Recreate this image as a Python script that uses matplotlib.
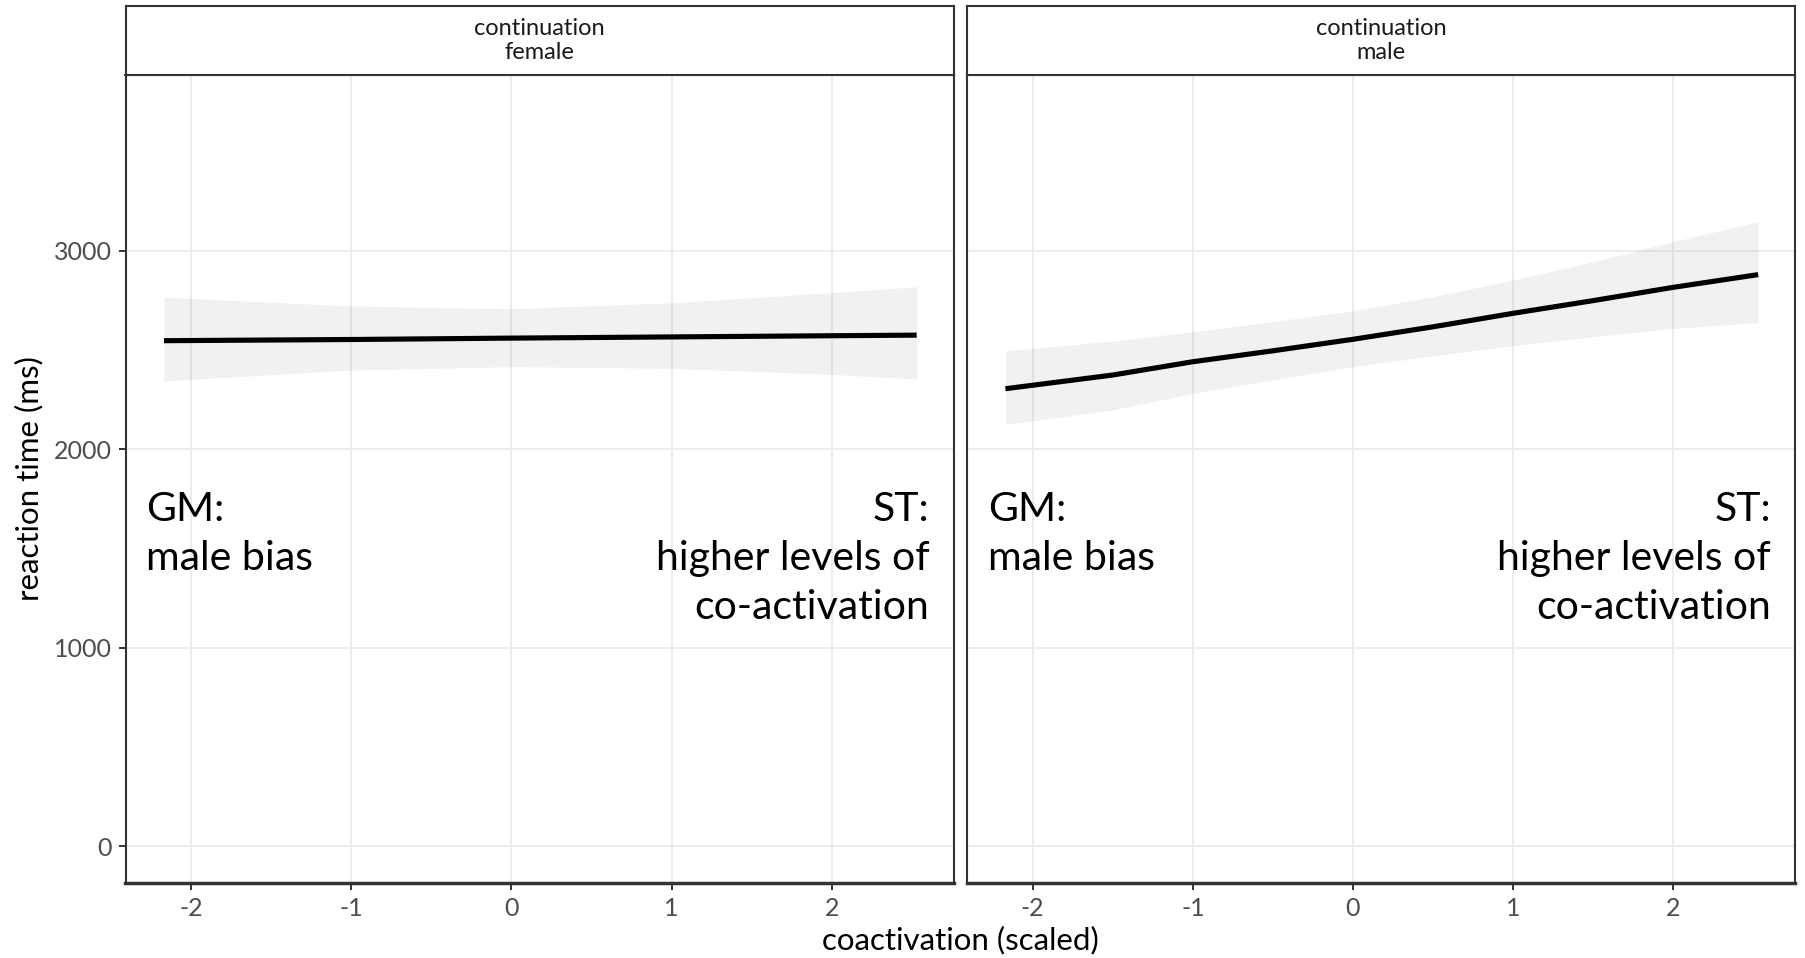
import matplotlib.pyplot as plt

plt.rcParams['font.family'] = ['Lato', 'DejaVu Sans']
plt.rcParams['axes.unicode_minus'] = False

# predicted values
female_x = [-2.17, -1.0, 0.0, 1.0, 2.0, 2.53]
female_fit = [2547, 2553, 2560, 2566, 2572, 2575]
female_upper = [2766, 2722, 2708, 2738, 2789, 2819]
female_lower = [2344, 2399, 2416, 2408, 2377, 2354]

male_x = [-2.17, -1.5, -1.0, -0.5, 0.0, 0.5, 1.0, 1.5, 2.0, 2.53]
male_fit = [2305, 2374, 2441, 2496, 2554, 2617, 2685, 2749, 2816, 2880]
male_upper = [2495, 2545, 2592, 2643, 2698, 2769, 2853, 2945, 3046, 3147]
male_lower = [2125, 2198, 2282, 2349, 2416, 2471, 2522, 2567, 2609, 2638]

panels = [
    ("continuation\nfemale", female_x, female_fit, female_upper, female_lower),
    ("continuation\nmale", male_x, male_fit, male_upper, male_lower),
]
x_ticks = [-2, -1, 0, 1, 2]
y_ticks = [0, 1000, 2000, 3000]

W, H = 1805, 958
fig = plt.figure(figsize=(W / 100, H / 100), dpi=100)

panel_lefts = [125.5, 967]
panel_w = 828
panel_top, panel_bottom, strip_top = 75, 883, 6

for i, (label, xs, fit, upper, lower) in enumerate(panels):
    left = panel_lefts[i] / W
    ax = fig.add_axes([left, 1 - panel_bottom / H, panel_w / W, (panel_bottom - panel_top) / H])
    ax.fill_between(xs, lower, upper, color='grey', alpha=0.11, lw=0, zorder=2)
    ax.plot(xs, fit, color='black', lw=3.7, zorder=3, solid_capstyle='butt')
    ax.set_xlim(-2.41, 2.76)
    ax.set_ylim(-186, 3886)
    ax.set_xticks(x_ticks)
    ax.set_yticks(y_ticks)
    ax.grid(True, color='#EBEBEB', lw=1.3, zorder=0)
    ax.set_axisbelow(True)
    for s in ax.spines.values():
        s.set_color('#333333')
        s.set_linewidth(1.5)
    ax.spines['bottom'].set_linewidth(2.5)
    ax.tick_params(colors='#333333', labelcolor='#4D4D4D', labelsize=18, length=5, width=1.4, pad=5)
    if i == 1:
        ax.tick_params(axis='y', left=False, labelleft=False)

    ax.text(0.025, 1790, "GM:\nmale bias", transform=ax.get_yaxis_transform(),
            ha='left', va='top', fontsize=29.5, linespacing=1.4)
    ax.text(0.971, 1790, "ST:\nhigher levels of\nco-activation", transform=ax.get_yaxis_transform(),
            ha='right', va='top', fontsize=29.5, linespacing=1.4, multialignment='right')

    # facet strip
    sax = fig.add_axes([left, 1 - panel_top / H, panel_w / W, (panel_top - strip_top) / H])
    sax.set_xticks([])
    sax.set_yticks([])
    for s in sax.spines.values():
        s.set_color('#333333')
        s.set_linewidth(1.5)
    sax.text(0.5, 0.5, label, ha='center', va='center', fontsize=17, color='#1A1A1A',
             linespacing=1.15, transform=sax.transAxes)

fig.text((panel_lefts[0] + panel_lefts[1] + panel_w) / 2 / W, 1 - 940 / H, "coactivation (scaled)",
         ha='center', va='center', fontsize=22.5)
fig.text(29 / W, 1 - (panel_top + panel_bottom) / 2 / H, "reaction time (ms)",
         ha='center', va='center', rotation=90, fontsize=22.5)

fig.savefig("out.png", dpi=100)
